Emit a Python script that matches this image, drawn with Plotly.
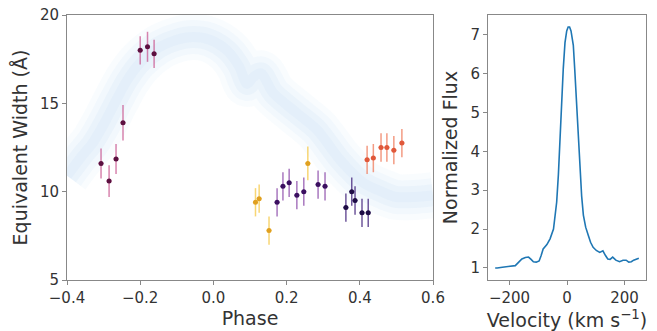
import plotly.graph_objects as go

# ---- equivalent width vs phase: five observing groups ----
g1_phase = [-0.307, -0.285, -0.266, -0.247, -0.200, -0.180, -0.162]
g1_ew = [11.6, 10.6, 11.85, 13.9, 18.0, 18.2, 17.8]
g1_err = [0.85, 0.9, 0.85, 1.0, 0.8, 0.85, 0.8]

yel_phase = [0.115, 0.125, 0.152, 0.258]
yel_ew = [9.4, 9.6, 7.8, 11.6]
yel_err = [0.8, 0.8, 0.8, 0.95]

pur_phase = [0.174, 0.190, 0.207, 0.228, 0.247, 0.286, 0.305]
pur_ew = [9.4, 10.3, 10.5, 9.8, 10.0, 10.4, 10.3]
pur_err = [0.8, 0.8, 0.8, 0.8, 0.8, 0.8, 0.8]

drk_phase = [0.362, 0.378, 0.387, 0.406, 0.423]
drk_ew = [9.1, 10.0, 9.5, 8.8, 8.8]
drk_err = [0.8, 0.8, 0.8, 0.8, 0.8]

org_phase = [0.420, 0.437, 0.458, 0.474, 0.493, 0.515]
org_ew = [11.8, 11.9, 12.5, 12.5, 12.35, 12.75]
org_err = [0.8, 0.8, 0.8, 0.8, 0.8, 0.8]

phase_err = 0.007

# model band (centre line)
band_phase = [-0.40, -0.36, -0.33, -0.30, -0.265, -0.236, -0.20, -0.146, -0.10,
              -0.056, -0.01, 0.037, 0.07, 0.092, 0.11, 0.13, 0.163, 0.228, 0.283,
              0.346, 0.41, 0.46, 0.50, 0.55, 0.60]
band_ew = [10.9, 12.0, 12.75, 13.8, 15.2, 16.3, 17.3, 18.2, 18.6,
           18.75, 18.6, 18.0, 17.1, 16.1, 16.5, 16.7, 15.6, 14.45, 13.5,
           11.8, 10.5, 10.0, 9.7, 9.7, 9.8]

# ---- emission line profile ----
vel = [-250, -243, -225, -209, -195, -180, -168, -157, -145, -134, -125, -117, -107,
       -97, -90, -83, -70, -59, -47, -36, -30, -24, -18, -13, -7, -1, 4, 9, 14,
       18, 22, 27, 33, 39, 45, 51, 57, 65, 74, 82, 91, 102, 114, 125, 134, 142,
       150, 159, 170, 183, 195, 206, 215, 224, 232, 241, 250]
flux = [1.0, 1.0, 1.02, 1.04, 1.05, 1.06, 1.15, 1.23, 1.27, 1.28, 1.22, 1.16, 1.15,
        1.18, 1.32, 1.49, 1.6, 1.75, 2.0, 2.69, 3.4, 4.42, 5.3, 6.13, 6.8, 7.1, 7.2,
        7.2, 7.1, 6.95, 6.73, 6.1, 5.27, 4.4, 3.55, 2.85, 2.36, 2.05, 1.84, 1.66,
        1.53, 1.45, 1.40, 1.44, 1.32, 1.23, 1.22, 1.28, 1.2, 1.16, 1.2, 1.20,
        1.15, 1.16, 1.2, 1.23, 1.25]

FONT = "DejaVu Sans"
AX_COL = "#888888"
TXT_COL = "#333333"

fig = go.Figure()

# soft model band: stacked faint translucent strokes
for w, a in [(46, 0.05), (34, 0.06), (22, 0.07), (10, 0.06)]:
    fig.add_trace(go.Scatter(
        x=band_phase, y=band_ew, mode="lines",
        line=dict(color=f"rgba(140,190,230,{a})", width=w, shape="spline", smoothing=0.8),
        hoverinfo="skip", showlegend=False, xaxis="x", yaxis="y"))

groups = [
    (g1_phase, g1_ew, g1_err, "#5c1040", "rgba(200,80,140,0.7)"),
    (yel_phase, yel_ew, yel_err, "#e0a020", "rgba(245,200,70,0.75)"),
    (pur_phase, pur_ew, pur_err, "#3b1060", "rgba(140,75,170,0.75)"),
    (drk_phase, drk_ew, drk_err, "#1e0c45", "rgba(75,45,130,0.8)"),
    (org_phase, org_ew, org_err, "#e0583a", "rgba(240,130,100,0.8)"),
]
for px, ew, err, mcol, ecol in groups:
    fig.add_trace(go.Scatter(
        x=px, y=ew, mode="markers",
        marker=dict(color=mcol, size=5),
        error_y=dict(type="data", array=err, color=ecol, thickness=1.5, width=0),
        error_x=dict(type="constant", value=phase_err, color=ecol, thickness=1.2, width=0),
        showlegend=False, xaxis="x", yaxis="y"))

fig.add_trace(go.Scatter(
    x=vel, y=flux, mode="lines",
    line=dict(color="#1f77b4", width=1.6),
    showlegend=False, xaxis="x2", yaxis="y2"))

axis_common = dict(
    showline=True, mirror=True, linecolor=AX_COL, linewidth=1,
    ticks="outside", ticklen=4, tickcolor=AX_COL, showgrid=False, zeroline=False,
    tickfont=dict(family=FONT, size=15, color=TXT_COL), automargin=False,
)
title_font = dict(family=FONT, size=19, color=TXT_COL)

W, H = 657, 331
fig.update_layout(
    width=W, height=H,
    margin=dict(l=0, r=0, t=0, b=0),
    paper_bgcolor="white", plot_bgcolor="white",
    xaxis=dict(domain=[67 / W, 433 / W], range=[-0.4, 0.6], tickvals=[-0.4, -0.2, 0.0, 0.2, 0.4, 0.6],
               ticktext=["\u22120.4", "\u22120.2", "0.0", "0.2", "0.4", "0.6"],
               title=dict(text="Phase", font=title_font, standoff=4), anchor="y", **axis_common),
    yaxis=dict(domain=[(H - 280) / H, (H - 15) / H], range=[5, 20], tickvals=[5, 10, 15, 20],
               title=dict(text="Equivalent Width (\u00c5)", font=title_font, standoff=7),
               anchor="x", **axis_common),
    xaxis2=dict(domain=[488 / W, 646 / W], range=[-275, 275], tickvals=[-200, 0, 200],
                ticktext=["\u2212200", "0", "200"],
                title=dict(text="Velocity (km s<sup>\u22121</sup>)", font=title_font, standoff=4),
                anchor="y2", **axis_common),
    yaxis2=dict(domain=[(H - 280) / H, (H - 15) / H], range=[0.69, 7.51],
                tickvals=[1, 2, 3, 4, 5, 6, 7],
                title=dict(text="Normalized Flux", font=title_font, standoff=7),
                anchor="x2", **axis_common),
)

fig.write_html("out.html")
